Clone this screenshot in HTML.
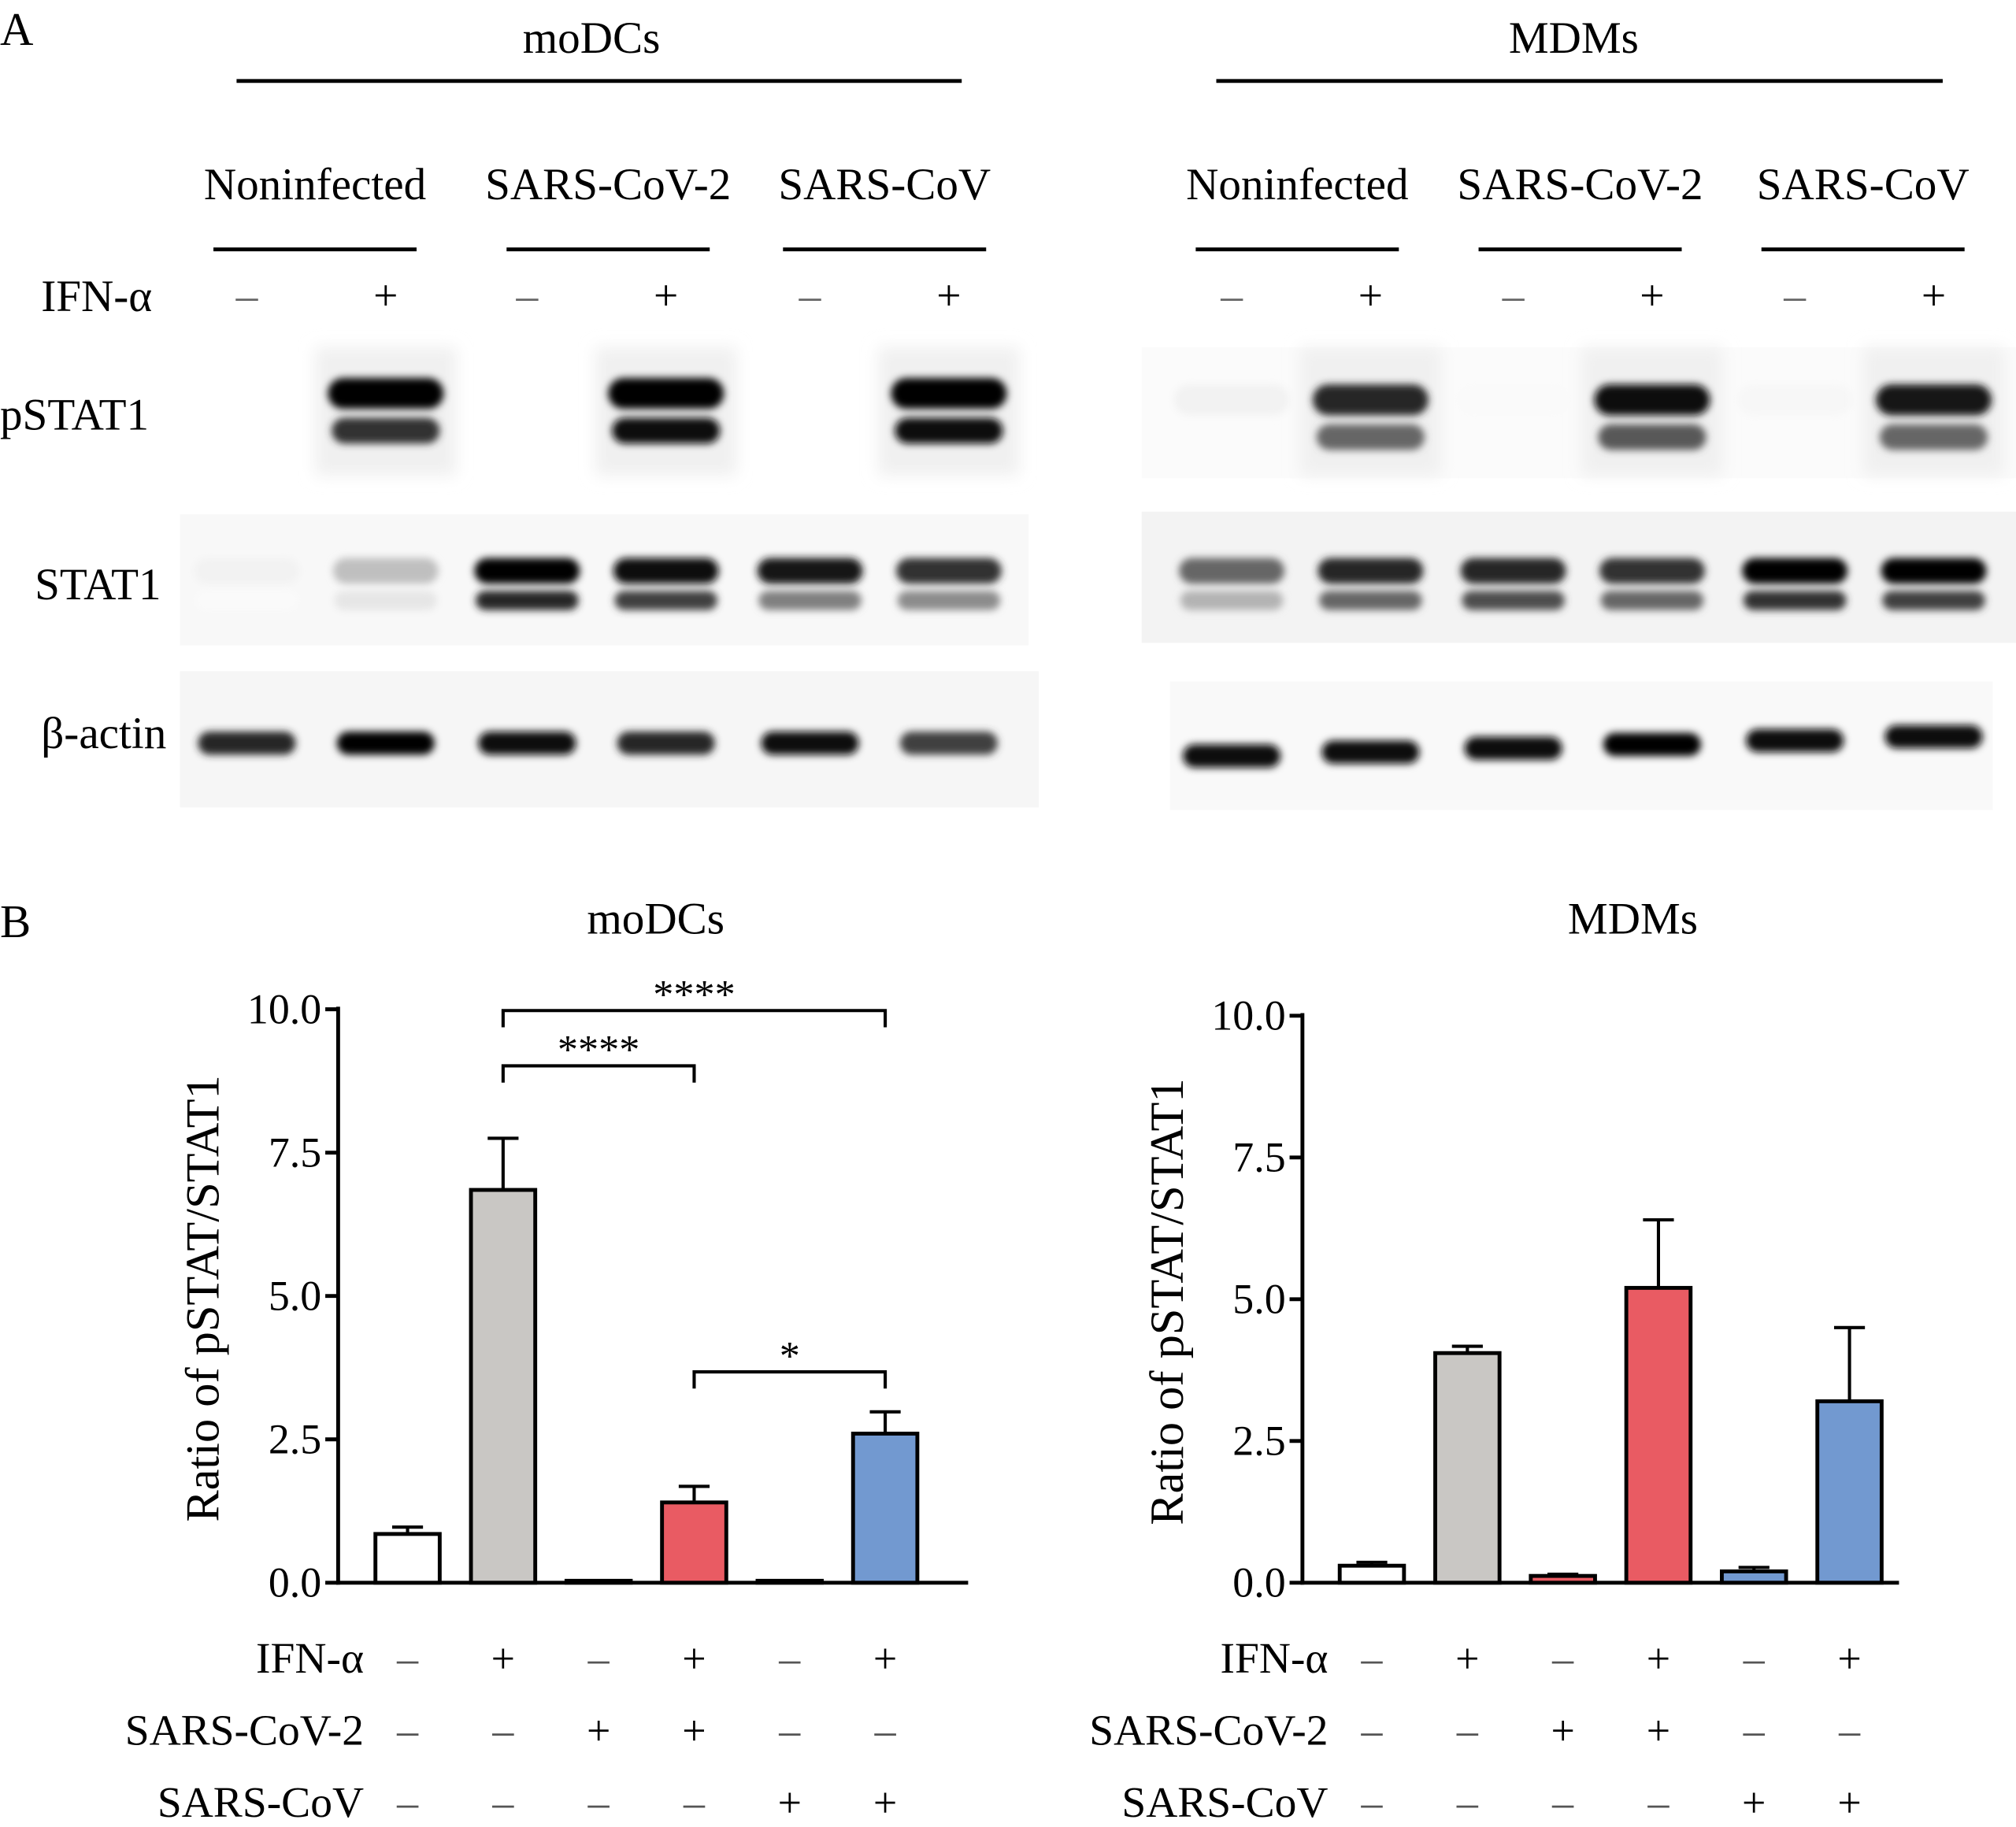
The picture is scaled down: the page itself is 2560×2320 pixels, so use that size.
<!DOCTYPE html>
<html><head><meta charset="utf-8">
<style>
html,body{margin:0;padding:0;background:#fff;}
svg{display:block;font-family:"Liberation Serif",serif;}
</style></head>
<body>
<svg id="fig" width="2560" height="2320" viewBox="0 0 1568 1421" preserveAspectRatio="none" xmlns="http://www.w3.org/2000/svg">
<defs>
<filter id="blur" x="-20%" y="-100%" width="140%" height="300%"><feGaussianBlur stdDeviation="3"/></filter>
<filter id="blur2" x="-20%" y="-100%" width="140%" height="300%"><feGaussianBlur stdDeviation="6"/></filter>
</defs>
<g id="panelA"></g>
<g id="panelB"></g>
</svg>
<script>
const NS="http://www.w3.org/2000/svg";
const svg=document.getElementById('fig');
const A=document.getElementById('panelA');
const B=document.getElementById('panelB');
function el(tag,attrs,parent,text){const e=document.createElementNS(NS,tag);for(const k in attrs)e.setAttribute(k,attrs[k]);if(text!==undefined)e.textContent=text;parent.appendChild(e);return e;}

// ===== Panel A =====
let t=el('text',{x:0,y:35,'font-size':36},A,'A');


const cellTypes=['moDCs','MDMs'];
const infections=['Noninfected','SARS-CoV-2','SARS-CoV'];
const groupX=[[245,473,688],[1009,1229,1449]];
const laneX=[[192,300,410,518,630,738],[958,1066,1177,1285,1396,1504]];
const pstatTop=[[0,1,0,1,0,1],[0.05,0.85,0.02,0.95,0.03,0.9]];
const pstatBot=[[0,0.8,0,0.95,0,0.95],[0,0.6,0,0.65,0,0.6]];
const statTop=[[0.05,0.25,1,0.95,0.9,0.8],[0.6,0.85,0.85,0.8,1,1]];
const statBot=[[0.02,0.1,0.85,0.75,0.5,0.45],[0.3,0.6,0.7,0.6,0.8,0.75]];
const actin=[[0.85,1,0.95,0.85,0.95,0.75],[0.95,0.95,0.95,1,0.95,0.95]];
const titleX=[460,1224],lineX=[[184,748],[946,1511]];
for(let c=0;c<2;c++){
  t=el('text',{x:titleX[c],y:41,'font-size':35,'text-anchor':'middle'},A,cellTypes[c]);
  
  
  el('line',{x1:lineX[c][0],x2:lineX[c][1],y1:63,y2:63,stroke:'#000','stroke-width':3},A);
  for(let g=0;g<3;g++){
    t=el('text',{x:groupX[c][g],y:155,'font-size':35,'text-anchor':'middle'},A,infections[g]);
    
    
    el('line',{x1:groupX[c][g]-79,x2:groupX[c][g]+79,y1:194,y2:194,stroke:'#000','stroke-width':3},A);
  }
  for(let i=0;i<6;i++){
    t=el('text',{x:laneX[c][i],y:241,'font-size':34,'text-anchor':'middle',fill:i%2?'#000':'#666'},A,i%2?'+':'–');
    
    
  }
}
t=el('text',{x:32,y:242,'font-size':35},A,'IFN-α');

const rowNames=[['pSTAT1',0,334],['STAT1',27,466],['β-actin',32,582]];
rowNames.forEach(r=>{t=el('text',{x:r[1],y:r[2],'font-size':35},A,r[0]);});
el('rect',{x:140,y:400,width:660,height:102,fill:'#f8f8f8'},A);
el('rect',{x:140,y:522,width:668,height:106,fill:'#f6f6f6'},A);
el('rect',{x:888,y:270,width:680,height:102,fill:'#fbfbfb'},A);
el('rect',{x:888,y:398,width:680,height:102,fill:'#f3f3f3'},A);
el('rect',{x:910,y:530,width:640,height:100,fill:'#f9f9f9'},A);
function band(x,y,w,h,k,parent){
  if(k<=0)return;
  const g=Math.round(255*(1-k));
  const e=el('rect',{x:x-w/2,y:y-h/2,width:w,height:h,rx:h/2,fill:`rgb(${g},${g},${g})`,filter:'url(#blur)'},parent);
  
  
}
for(let c=0;c<2;c++){
  const oy=c?5:0;
  for(let i=0;i<6;i++){
    const x=laneX[c][i];
    if(pstatTop[c][i]>0.3){el('rect',{x:x-55,y:270,width:110,height:100,fill:'#f0f0f0',filter:'url(#blur2)'},A);}
    band(x,306+oy,90,24,pstatTop[c][i],A);
    band(x,335+oy,84,20,pstatBot[c][i],A);
    band(x,444,82,20,statTop[c][i],A);
    band(x,467,80,15,statBot[c][i],A);
    band(x,c?588-i*3:578,76,18,actin[c][i],A);
  }
}

// ===== Panel B =====
const conditions=['IFN-α','SARS-CoV-2','SARS-CoV'];
const signs=[['–','+','–','+','–','+'],['–','–','+','+','–','–'],['–','–','–','–','+','+']];
const yTicks=[0,2.5,5,7.5,10];
const yTickLabels=['0.0','2.5','5.0','7.5','10.0'];
const barColors=['#ffffff','#c9c7c4','#e95b63','#7299d0'];
const moValues=[0.85,6.85,0.02,1.4,0.02,2.6];
const moErrors=[0.12,0.9,0,0.28,0,0.38];
const mdmValues=[0.3,4.05,0.12,5.2,0.2,3.2];
const mdmErrors=[0.06,0.12,0.03,1.2,0.07,1.3];

t=el('text',{x:0,y:729,'font-size':36},B,'B');


function chart(cfg){
  const G=el('g',{},B);
  
  
  const yS=v=>cfg.y0-(v/10)*(cfg.y0-cfg.y10);
  const xS=i=>cfg.x0+54+i*cfg.step;
  t=el('text',{x:cfg.titleX,y:726,'font-size':35,'text-anchor':'middle'},G,cfg.title);
  
  el('line',{x1:cfg.x0,x2:cfg.x0,y1:yS(10)-2,y2:yS(0)+1.5,stroke:'#000','stroke-width':3},G);
  el('line',{x1:cfg.x0-1.5,x2:cfg.x1,y1:yS(0),y2:yS(0),stroke:'#000','stroke-width':3},G);
  yTicks.forEach((v,k)=>{
    el('line',{x1:cfg.x0-10,x2:cfg.x0,y1:yS(v),y2:yS(v),stroke:'#000','stroke-width':3},G);
    const tl=el('text',{x:cfg.x0-13,y:yS(v)+11,'font-size':33,'text-anchor':'end'},G,yTickLabels[k]);
    
    
  });
  const yl=el('text',{x:0,y:0,'font-size':37,'text-anchor':'middle',transform:`translate(${cfg.x0-93},${(yS(0)+yS(10))/2+2}) rotate(-90)`},G,'Ratio of pSTAT/STAT1');
  
  
  cfg.values.forEach((v,i)=>{
    const x=xS(i),w=50,e=cfg.errors[i];
    if(e>0){
      el('line',{x1:x,x2:x,y1:yS(v),y2:yS(v+e),stroke:'#000','stroke-width':2.5},G);
      el('line',{x1:x-12,x2:x+12,y1:yS(v+e),y2:yS(v+e),stroke:'#000','stroke-width':2.5},G);
    }
    const h=Math.max(yS(0)-yS(v),1.5);
    const r=el('rect',{x:x-w/2,y:yS(0)-h,width:w,height:h,fill:barColors[cfg.colorMap[i]],stroke:'#000','stroke-width':3},G);
    
    
  });
  conditions.forEach((c,r)=>{
    const y=1301+r*56;
    const tl=el('text',{x:cfg.x0+20,y:y,'font-size':34,'text-anchor':'end'},G,c);
    
    
    signs[r].forEach((s,i)=>{
      const st=el('text',{x:xS(i),y:y,'font-size':33,'text-anchor':'middle',fill:s==='+'?'#000':'#555'},G,s);
      
      
    });
  });
  (cfg.sig||[]).forEach(s=>{
    const x1=xS(s[0]),x2=xS(s[1]),y=s[2];
    el('path',{d:`M${x1},${y+13}V${y}H${x2}V${y+13}`,fill:'none',stroke:'#000','stroke-width':2.5},G);
    const st=el('text',{x:(x1+x2)/2,y:y-2,'font-size':32,'text-anchor':'middle'},G,s[3]);
    
    
  });
}
chart({name:'modcs-chart',title:'moDCs',titleX:510,x0:263,x1:753,y0:1231,y10:785,step:74.3,values:moValues,errors:moErrors,colorMap:[0,1,2,2,3,3],
  sig:[[1,5,786,'****'],[1,3,829,'****'],[3,5,1067,'*']]});
chart({name:'mdms-chart',title:'MDMs',titleX:1270,x0:1013,x1:1477,y0:1231,y10:790,step:74.3,values:mdmValues,errors:mdmErrors,colorMap:[0,1,2,2,3,3]});
</script>
</body></html>
